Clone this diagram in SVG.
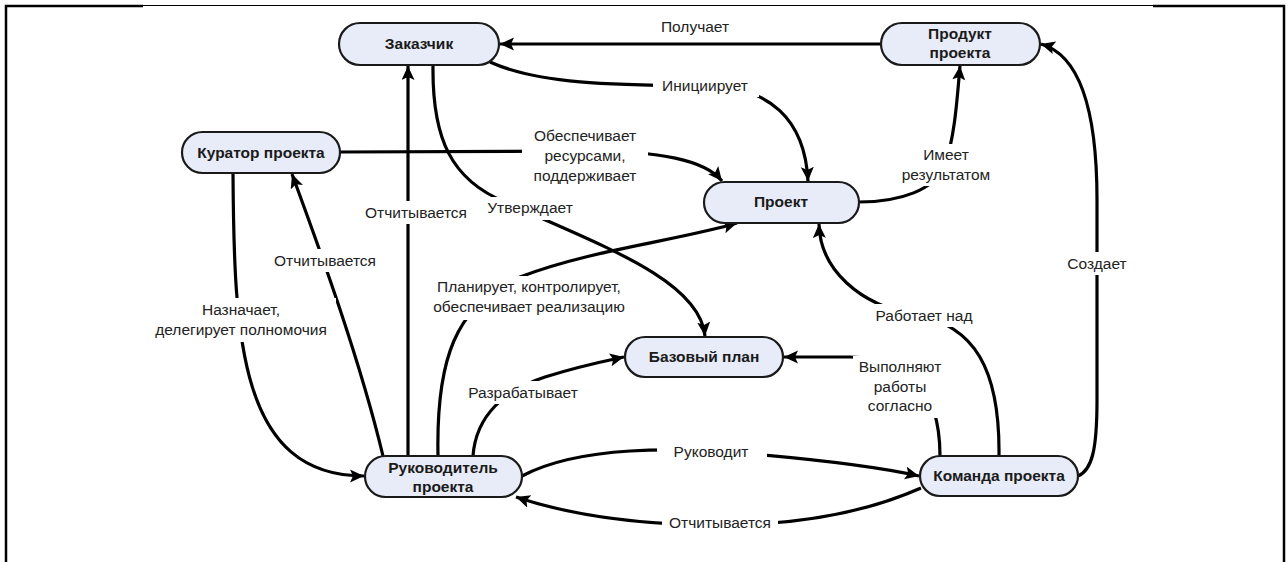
<svg xmlns="http://www.w3.org/2000/svg" width="1288" height="562" viewBox="0 0 1288 562">
<style>
.frame{fill:none;stroke:#000}
.node rect{fill:#e8ecf8;stroke:#1a1a1a;stroke-width:2.2}
.node text{font-family:"Liberation Sans",Arial,sans-serif;font-weight:bold;font-size:15.5px;fill:#1a1a1a;text-anchor:middle}
.conn path{fill:none;stroke:#000;stroke-width:3.2;marker-end:url(#arr)}
.lbl rect{fill:#fff}
.lbl text{font-family:"Liberation Sans",Arial,sans-serif;font-size:15.5px;fill:#222;text-anchor:middle}
</style>
<defs>
<marker id="arr" markerUnits="userSpaceOnUse" markerWidth="16" markerHeight="14" refX="14" refY="6.5" orient="auto">
<path d="M0,0 L14,6.5 L0,13 L3,6.5 z" fill="#000"/>
</marker>
</defs>
<rect width="1288" height="562" fill="#fff"/>
<g id="frame">
<path class="frame" stroke-width="2.5" d="M6,562 V6 H143"/>
<line class="frame" stroke-width="1" x1="143" y1="5.5" x2="1153" y2="5.5"/>
<path class="frame" stroke-width="2.5" d="M1153,6 H1284 V562"/>
</g>
<g id="connectors" class="conn">
<path d="M881,44 L500,44"/>
<path d="M490,62 C540,85 620,85 705,86 C770,86 805,120 808,181"/>
<path d="M340,152 L585,151 C660,151 705,160 722,181"/>
<path d="M408,456 L408,66"/>
<path d="M433,65 C432,140 452,180 505,202 C600,245 700,280 705,336"/>
<path d="M233,173 C234,340 240,476 364,476"/>
<path d="M383,456 C360,360 320,250 292,174"/>
<path d="M438,456 C436,360 455,305 520,277 C590,250 680,240 737,223"/>
<path d="M473,456 C476,415 505,390 545,377 C580,366 605,361 624,357"/>
<path d="M522,476 C580,445 680,448 740,453 C800,458 870,465 919,476"/>
<path d="M921,488 C860,515 790,525 720,525 C640,525 570,515 516,497"/>
<path d="M940,456 C940,380 900,358 850,357 L784,357"/>
<path d="M999,456 C1000,370 975,325 915,315 C860,305 820,270 819,224"/>
<path d="M859,202 C900,202 935,190 945,165 C955,135 957,100 960,66"/>
<path d="M1078,476 C1092,470 1097,450 1097,400 L1097,200 C1097,110 1080,55 1041,44"/>
</g>
<g id="labels" class="lbl">
<text x="695" y="32">Получает</text>
<rect x="653" y="75" width="106" height="22"/><text x="705" y="91">Инициирует</text>
<rect x="522" y="125" width="126" height="62"/><text x="585" y="141">Обеспечивает</text><text x="585" y="161">ресурсами,</text><text x="585" y="181">поддерживает</text>
<rect x="358" y="201" width="116" height="23"/><text x="416" y="218">Отчитывается</text>
<rect x="483" y="197" width="109" height="23"/><text x="530" y="213">Утверждает</text>
<rect x="270" y="249" width="112" height="23"/><text x="325" y="266">Отчитывается</text>
<rect x="146" y="298" width="190" height="44"/><text x="241" y="315">Назначает,</text><text x="241" y="335">делегирует полномочия</text>
<rect x="425" y="276" width="208" height="44"/><text x="529" y="292">Планирует, контролирует,</text><text x="529" y="312">обеспечивает реализацию</text>
<rect x="459" y="381" width="128" height="23"/><text x="523" y="398">Разрабатывает</text>
<rect x="657" y="440" width="110" height="23"/><text x="711" y="457">Руководит</text>
<rect x="662" y="511" width="116" height="23"/><text x="720" y="528">Отчитывается</text>
<rect x="853" y="356" width="94" height="62"/><text x="900" y="372">Выполняют</text><text x="900" y="392">работы</text><text x="900" y="411">согласно</text>
<rect x="869" y="304" width="110" height="23"/><text x="924" y="321">Работает над</text>
<rect x="894" y="144" width="104" height="42"/><text x="946" y="160">Имеет</text><text x="946" y="180">результатом</text>
<rect x="1062" y="252" width="70" height="23"/><text x="1097" y="269">Создает</text>
</g>
<g id="n-zakazchik" class="node"><rect x="339" y="23" width="160" height="42" rx="21"/><text x="419" y="49">Заказчик</text></g>
<g id="n-produkt" class="node"><rect x="881" y="23" width="159" height="42" rx="21"/><text x="960" y="39">Продукт</text><text x="960" y="58">проекта</text></g>
<g id="n-kurator" class="node"><rect x="182" y="132" width="158" height="41" rx="20.5"/><text x="261" y="158">Куратор проекта</text></g>
<g id="n-proekt" class="node"><rect x="704" y="182" width="155" height="41" rx="20.5"/><text x="781" y="207">Проект</text></g>
<g id="n-plan" class="node"><rect x="625" y="337" width="158" height="40" rx="20"/><text x="704" y="362">Базовый план</text></g>
<g id="n-rukovoditel" class="node"><rect x="365" y="456" width="157" height="41" rx="20.5"/><text x="443" y="473">Руководитель</text><text x="443" y="492">проекта</text></g>
<g id="n-komanda" class="node"><rect x="920" y="456" width="158" height="40" rx="20"/><text x="999" y="481">Команда проекта</text></g>
</svg>
